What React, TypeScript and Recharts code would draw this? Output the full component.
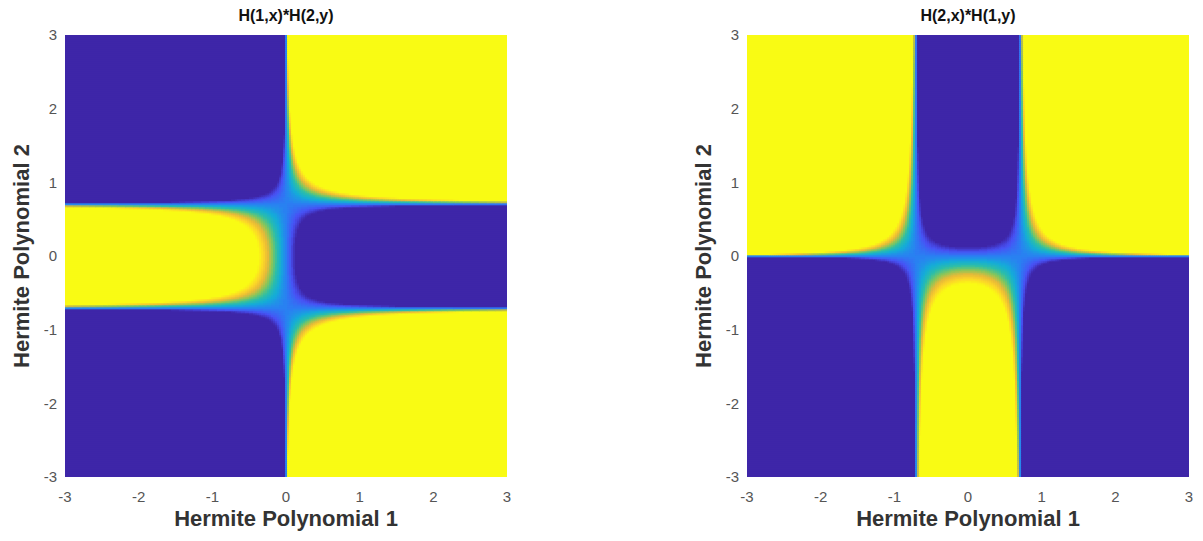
import { ScatterChart, Scatter, XAxis, YAxis } from "recharts";

// Hermite polynomial coefficients (ascending powers)
const H1 = [0, 2];
const H2 = [-2, 0, 4];

const axisTicks = [-3, -2, -1, 0, 1, 2, 3];
const axisDomain = [-3, 3];
const colorLimits = [-0.5, 1.5];

// parula-like colormap anchors
const cmapStops = [0, 0.12, 0.25, 0.38, 0.5, 0.62, 0.75, 0.87, 1];
const cmapColors = [
  [62, 38, 168],
  [72, 82, 245],
  [42, 128, 242],
  [20, 172, 216],
  [44, 190, 168],
  [132, 198, 92],
  [232, 186, 56],
  [252, 214, 40],
  [249, 251, 20],
];

const panelTitles = ["H(1,x)*H(2,y)", "H(2,x)*H(1,y)"];
const panelXPoly = [H1, H2];
const panelYPoly = [H2, H1];

const GRID = 221;
const PLOT = 442;
const PITCH = PLOT / GRID;
const LEVELS = 64;
const FONT = "'Liberation Sans', Arial, sans-serif";

const polyval = (c: number[], t: number) => c.reduce((s, a, k) => s + a * Math.pow(t, k), 0);

const levelColor = (lvl: number) => {
  const t = lvl / (LEVELS - 1);
  let k = 0;
  while (k < cmapStops.length - 2 && t > cmapStops[k + 1]) k++;
  const f = (t - cmapStops[k]) / (cmapStops[k + 1] - cmapStops[k]);
  const a = cmapColors[k];
  const b = cmapColors[k + 1];
  const c = a.map((v, i) => Math.round(v + (b[i] - v) * f));
  return `rgb(${c[0]},${c[1]},${c[2]})`;
};

function buildRuns(px: number[], py: number[]) {
  const step = (axisDomain[1] - axisDomain[0]) / GRID;
  const runs: { x: number; y: number; n: number; c: string }[] = [];
  for (let j = 0; j < GRID; j++) {
    const y = axisDomain[0] + (j + 0.5) * step;
    const hy = polyval(py, y);
    let start = 0;
    let prev = -1;
    for (let i = 0; i <= GRID; i++) {
      let lvl = -2;
      if (i < GRID) {
        const x = axisDomain[0] + (i + 0.5) * step;
        const v = polyval(px, x) * hy;
        const t = (v - colorLimits[0]) / (colorLimits[1] - colorLimits[0]);
        lvl = Math.max(0, Math.min(LEVELS - 1, Math.floor(t * LEVELS)));
      }
      if (lvl !== prev) {
        if (prev >= 0) {
          runs.push({
            x: axisDomain[0] + (start + 0.5) * step,
            y,
            n: i - start,
            c: levelColor(prev),
          });
        }
        start = i;
        prev = lvl;
      }
    }
  }
  return runs;
}

const CellShape = (props: any) => {
  const { cx, cy, payload } = props;
  return (
    <rect
      x={cx - PITCH / 2}
      y={cy - PITCH / 2 - 0.3}
      width={payload.n * PITCH + 0.4}
      height={PITCH + 0.6}
      fill={payload.c}
    />
  );
};

function Panel({ idx, left }: { idx: number; left: number }) {
  const runs = buildRuns(panelXPoly[idx], panelYPoly[idx]);
  const tick = { fontSize: 15, fill: "#555", fontFamily: FONT };
  return (
    <div style={{ position: "absolute", left, top: 0, width: 560, height: 541 }}>
      <div
        style={{
          position: "absolute",
          left: 65,
          width: PLOT,
          top: 7,
          textAlign: "center",
          fontFamily: FONT,
          fontWeight: "bold",
          fontSize: 16,
          color: "#111",
        }}
      >
        {panelTitles[idx]}
      </div>
      <ScatterChart width={560} height={541} margin={{ top: 35, right: 53, left: 15, bottom: 0 }}>
        <XAxis
          type="number"
          dataKey="x"
          domain={axisDomain}
          ticks={axisTicks}
          axisLine={false}
          tickLine={false}
          tickMargin={8}
          height={64}
          tick={tick}
          allowDataOverflow
        />
        <YAxis
          type="number"
          dataKey="y"
          domain={axisDomain}
          ticks={axisTicks}
          axisLine={false}
          tickLine={false}
          width={50}
          tick={tick}
          allowDataOverflow
        />
        <Scatter data={runs} shape={CellShape} isAnimationActive={false} />
      </ScatterChart>
      <div
        style={{
          position: "absolute",
          left: 65,
          width: PLOT,
          top: 506,
          textAlign: "center",
          fontFamily: FONT,
          fontWeight: "bold",
          fontSize: 22,
          color: "#333",
        }}
      >
        Hermite Polynomial 1
      </div>
      <div
        style={{
          position: "absolute",
          left: 22 - 150,
          top: 256 - 14,
          width: 300,
          height: 28,
          lineHeight: "28px",
          textAlign: "center",
          transform: "rotate(-90deg)",
          fontFamily: FONT,
          fontWeight: "bold",
          fontSize: 22,
          color: "#333",
        }}
      >
        Hermite Polynomial 2
      </div>
    </div>
  );
}

export default function App() {
  return (
    <div style={{ position: "relative", width: 1203, height: 541, background: "#fff" }}>
      <style>{"body{margin:0}"}</style>
      <Panel idx={0} left={0} />
      <Panel idx={1} left={682} />
    </div>
  );
}
